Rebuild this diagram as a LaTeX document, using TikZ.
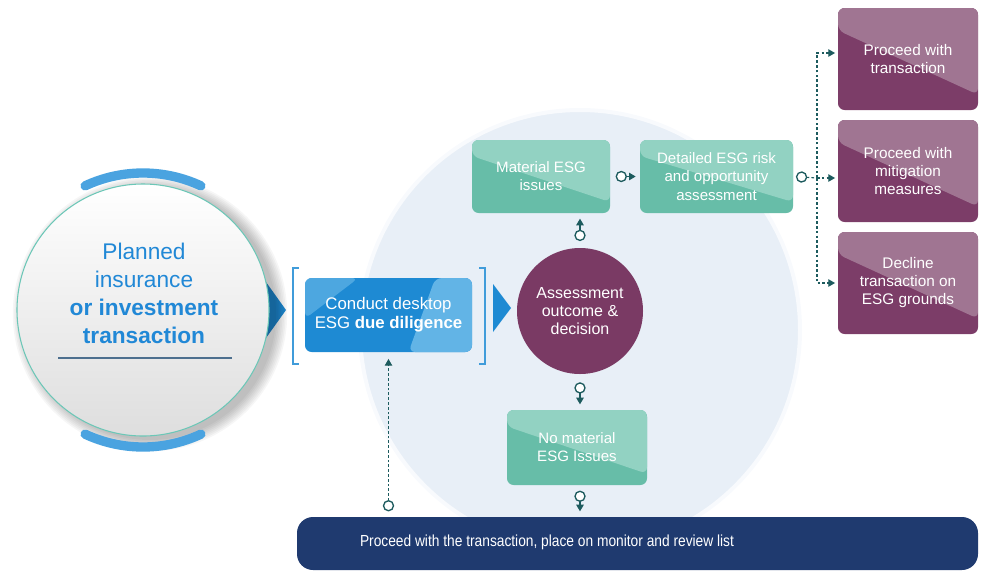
\documentclass[tikz,border=0pt]{standalone}
\usepackage{fontspec}
\setmainfont{Liberation Sans}
\newfontfamily\narrowsans{Liberation Sans}[FakeStretch=0.86]
\usetikzlibrary{calc,arrows.meta}

\definecolor{bgblue}{HTML}{E8EFF7}
\definecolor{ringc}{HTML}{F8FAFD}
\definecolor{azure}{HTML}{1E8AD3}
\definecolor{azurelt}{HTML}{62B4E6}
\definecolor{tealdk}{HTML}{67BDA8}
\definecolor{teallt}{HTML}{92D2C2}
\definecolor{plumdk}{HTML}{7C3D68}
\definecolor{plumlt}{HTML}{A07592}
\definecolor{plum}{HTML}{7A3A64}
\definecolor{navy}{HTML}{1F3A6F}
\definecolor{arrowc}{HTML}{1D5B5E}
\definecolor{titleblue}{HTML}{2188D6}
\definecolor{arcblue}{HTML}{4AA3E0}
\definecolor{rimteal}{HTML}{6CC7B7}
\definecolor{rulec}{HTML}{4D6F8E}

\tikzset{
  twotone/.style 2 args={
    rounded corners=5pt, fill=#1, inner sep=0pt,
    path picture={
      \fill[#2] (path picture bounding box.north west)
        -- (path picture bounding box.north east)
        -- ($(path picture bounding box.north east)!0.85!(path picture bounding box.south east)$)
        -- ($(path picture bounding box.north west)!0.22!(path picture bounding box.south west)$)
        -- cycle;}},
  tealbox/.style={twotone={tealdk}{teallt}, text=white, align=center,
    font=\fontsize{11.3}{13.6}\selectfont},
  plumbox/.style={twotone={plumdk}{plumlt}, text=white, align=center,
    minimum width=105pt, minimum height=76.5pt,
    font=\fontsize{11.5}{13.5}\selectfont},
  ddbox/.style={rounded corners=5pt, fill=azure, inner sep=0pt, text=white,
    align=center, font=\fontsize{12.6}{14.3}\selectfont,
    path picture={
      \fill[azurelt] ($(path picture bounding box.north west)!0.78!(path picture bounding box.north east)$)
        -- (path picture bounding box.north east)
        -- (path picture bounding box.south east)
        -- ($(path picture bounding box.south west)!0.62!(path picture bounding box.south east)$)
        -- cycle;
      \fill[azurelt, opacity=0.7] (path picture bounding box.north west)
        -- ($(path picture bounding box.north west)!0.32!(path picture bounding box.north east)$)
        -- ($(path picture bounding box.north west)!0.55!(path picture bounding box.south west)$)
        -- cycle;}},
  ringtip/.tip={Circle[length=8.5pt, fill=white, line width=1pt]},
  headtip/.tip={Triangle[length=5pt, width=5.5pt]},
  conn/.style={draw=arrowc, line width=1.1pt, ringtip-headtip},
  dconn/.style={draw=arrowc, line width=0.8pt, dash pattern=on 2pt off 1.6pt},
}

\begin{document}
\begin{tikzpicture}[x=0.75pt, y=-0.75pt]
\useasboundingbox (0,0) rectangle (982,572);

% pale backdrop disc
\fill[bgblue, draw=ringc, line width=3pt] (580,330) circle[radius=165pt];

% pointer from the start disc
\fill[azure] (256,268) -- (286,310) -- (256,352) -- cycle;

% soft shadow of the start disc
\foreach \i in {0,...,7}
  \fill[black, opacity=0.035] (150,314) circle[radius={94.5pt+\i*1.2pt}];

% start disc
\node[circle, minimum size=189pt, inner sep=0pt, top color=white,
      bottom color=black!13, draw=rimteal, line width=0.8pt] (start) at (143,310) {};
\draw[arcblue, line width=7pt, line cap=round]
  (start.center) ++(65:102.75pt) arc[start angle=65, end angle=115, radius=102.75pt];
\draw[arcblue, line width=7pt, line cap=round]
  (start.center) ++(-65:102.75pt) arc[start angle=-65, end angle=-115, radius=102.75pt];
\node[text=titleblue, align=center, font=\fontsize{17}{21}\selectfont] (starttext)
  at (144,293) {Planned\\insurance\\\textbf{or investment}\\\textbf{transaction}};
\draw[rulec, line width=0.9pt] (58,358) -- (232,358);

% brackets round the due diligence step
\draw[azure!85, line width=1pt] (299,268) -- (293,268) -- (293,364) -- (299,364);
\draw[azure!85, line width=1pt] (479,268) -- (485,268) -- (485,364) -- (479,364);

% due diligence step
\node[ddbox, minimum width=125.25pt, minimum height=55.5pt] (dd) at (388.5,315)
  {Conduct desktop\\ESG \textbf{due diligence}};

% pointer to the decision
\fill[azure] (493,284) -- (511,308) -- (493,332) -- cycle;

% decision
\node[circle, fill=plum, minimum size=94.5pt, inner sep=0pt, text=white,
      align=center, font=\fontsize{12}{13.5}\selectfont] (dec) at (580,311)
  {Assessment\\outcome \&\\decision};

% outcome boxes
\node[tealbox, minimum width=103.5pt, minimum height=54.75pt] (mat) at (541,176.5)
  {Material ESG\\issues};
\node[tealbox, minimum width=114.75pt, minimum height=54.75pt] (det) at (716.5,176.5)
  {Detailed ESG risk\\and opportunity\\assessment};
\node[tealbox, minimum width=105pt, minimum height=56.25pt] (nomat) at (577,447.5)
  {No material\\ESG Issues};

\node[plumbox] (go) at (908,59) {Proceed with\\transaction};
\node[plumbox] (mitig) at (908,171) {Proceed with\\mitigation\\measures};
\node[plumbox] (decl) at (908,283) {Decline\\transaction on\\ESG grounds};

% monitoring bar
\node[fill=navy, rounded corners=12pt, minimum width=510.75pt, minimum height=39.75pt,
      inner sep=0pt] (bar) at (637.5,543.5) {};
\node[text=white, font=\narrowsans\fontsize{12}{13}\selectfont] (barlabel) at (547,542)
  {Proceed with the transaction, place on monitor and review list};

% connectors
\draw[conn, shorten <=4pt, shorten >=3pt] (mat.east) -- (det.west);
\draw[conn, shorten <=5pt, shorten >=4pt] (dec.north) -- (dec.north |- mat.south);
\draw[conn, shorten <=6pt, shorten >=4pt] (dec.south) -- (dec.south |- nomat.north);
\draw[conn, shorten <=4pt, shorten >=4pt] (dec.south |- nomat.south) -- (dec.south |- bar.north);

\draw[dconn, ringtip-headtip, shorten <=4pt, shorten >=5pt] (dd.south |- bar.north) -- (dd.south);

\coordinate (fork) at (817,178);
\draw[dconn, ringtip-, shorten <=2pt] (det.east) -- (fork);
\draw[dconn, -headtip, shorten >=2pt] (fork) |- ([yshift=4.5pt]go.west);
\draw[dconn, -headtip, shorten >=2pt] (fork) -- (fork -| mitig.west);
\draw[dconn, -headtip, shorten >=2pt] (fork) |- (decl.west);
\end{tikzpicture}
\end{document}
